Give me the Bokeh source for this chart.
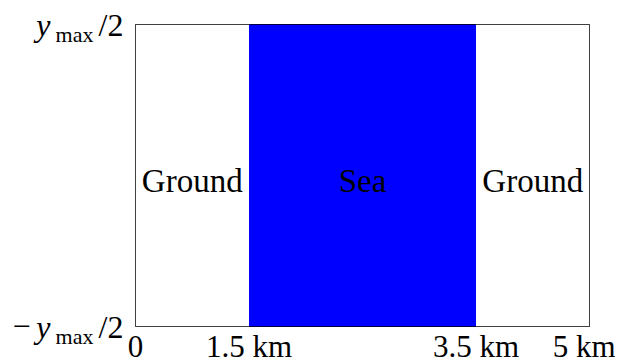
from bokeh.plotting import figure
from bokeh.models import ColumnDataSource, LabelSet, FixedTicker, LinearAxis
from bokeh.embed import file_html
from bokeh.resources import INLINE

# Data
boundaries = [0, 1, 3, 4]
tick_labels = ["0", "1.5 km", "3.5 km", "5 km"]
regions = ["Ground", "Sea", "Ground"]
region_colors = ["#ffffff", "#0000ff", "#ffffff"]
y_limits = [-1, 1]
# y tick label pieces: sign, variable, subscript, divisor
y_sign = ["\u2212", ""]
y_var = ["y", "y"]
y_sub = ["max", "max"]
y_div = ["/2", "/2"]

FONT = "Liberation Serif"
FS = "32px"

p = figure(frame_width=454, frame_height=302, x_range=(boundaries[0], boundaries[-1]),
           y_range=(y_limits[0], y_limits[1]),
           y_axis_type=None,
           min_border_left=135, min_border_right=26, min_border_top=24, min_border_bottom=0,
           toolbar_location=None, output_backend="svg")
p.grid.visible = False
p.outline_line_color = "black"
p.outline_line_width = 1
p.background_fill_color = "white"
p.border_fill_color = "white"

ax = p.xaxis[0]
ax.ticker = FixedTicker(ticks=boundaries)
ax.major_label_overrides = {b: t for b, t in zip(boundaries, tick_labels)}
ax.axis_line_color = None
ax.major_tick_line_color = None
ax.minor_tick_line_color = None
ax.major_tick_out = 0
ax.major_tick_in = 0
ax.minor_tick_out = 0
ax.major_label_standoff = 2
ax.major_label_text_font = FONT
ax.major_label_text_font_size = "31px"
ax.major_label_text_color = "black"


def add_y_axis(ticks, labels, standoff, size, style="normal", prefix="", line_height=1.2):
    pairs = [(t, prefix + l) for t, l in zip(ticks, labels) if l]
    tks = [t for t, _ in pairs]
    a = LinearAxis(ticker=FixedTicker(ticks=tks),
                   major_label_overrides={t: l for t, l in pairs},
                   axis_line_color=None, major_tick_line_color=None, minor_tick_line_color=None,
                   major_tick_out=0, major_tick_in=0, minor_tick_out=0, minor_tick_in=0,
                   major_label_standoff=standoff, major_label_text_font=FONT,
                   major_label_text_font_size=size, major_label_text_font_style=style,
                   major_label_text_line_height=line_height,
                   major_label_text_color="black")
    p.add_layout(a, "left")


add_y_axis(y_limits, y_div, 12, FS)
add_y_axis(y_limits, y_sub, 2, "22px", prefix="\n", line_height=0.8)
add_y_axis(y_limits, y_var, 2, FS, style="italic")
add_y_axis(y_limits, y_sign, 3, FS)

lefts = boundaries[:-1]
rights = boundaries[1:]
mids = [(a + b) / 2 for a, b in zip(lefts, rights)]

src = ColumnDataSource(dict(left=lefts, right=rights,
                            bottom=[y_limits[0]] * len(lefts), top=[y_limits[1]] * len(lefts),
                            color=region_colors, mid=mids, y0=[0] * len(lefts), name=regions))
p.quad(left="left", right="right", bottom="bottom", top="top", fill_color="color",
       line_color=None, source=src)

p.add_layout(LabelSet(x="mid", y="y0", text="name", source=src, text_align="center",
                      text_baseline="alphabetic", y_offset=-16,
                      text_font=FONT, text_font_size="33px", text_color="black"))

open("out.html", "w").write(file_html(p, INLINE))
